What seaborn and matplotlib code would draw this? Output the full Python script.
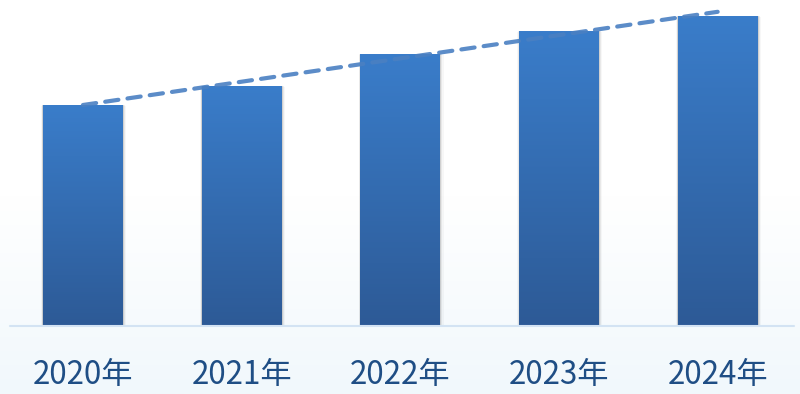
import numpy as np
import pandas as pd
import matplotlib
matplotlib.use("Agg")
import matplotlib.pyplot as plt
import seaborn as sns
from matplotlib.colors import LinearSegmentedColormap

years = ["2020年", "2021年", "2022年", "2023年", "2024年"]
values = [221, 240, 272, 295, 310]

sns.set_theme(style="white")
plt.rcParams['font.family'] = ['Noto Sans CJK SC', 'DejaVu Sans']

W, H = 800, 394
fig = plt.figure(figsize=(W / 100, H / 100), dpi=100)

# background gradient
bg = fig.add_axes([0, 0, 1, 1], zorder=-10)
bg.axis("off")
grad = np.linspace(0, 1, 256).reshape(-1, 1)
bg_cmap = LinearSegmentedColormap.from_list("bg", ["#ffffff", "#ffffff", "#f1f8fc"])
bg.imshow(grad, aspect="auto", cmap=bg_cmap, extent=[0, 1, 0, 1], origin="upper")
bg.set_xlim(0, 1); bg.set_ylim(0, 1)

x0 = 3.6 / W
x1 = 797 / W
y0 = (H - 326) / H
ax = fig.add_axes([x0, y0, x1 - x0, 326 / H])
ax.patch.set_alpha(0)

df = pd.DataFrame({"year": years, "value": values})
sns.barplot(data=df, x="year", y="value", ax=ax, width=0.503, color="#3a7cc8",
            edgecolor="none", saturation=1)

ax.set_xlim(-0.5, 4.5)
ax.set_ylim(0, 326)

bar_cmap = LinearSegmentedColormap.from_list("bar", ["#2d5a96", "#3a7dca"])
for p in list(ax.patches):
    bx, by = p.get_x(), p.get_y()
    bw, bh = p.get_width(), p.get_height()
    # soft shadow
    for k, a in enumerate([0.10, 0.06, 0.03]):
        off = (k + 1) * 0.006
        sh = plt.Rectangle((bx - off * 0.6, by - (k + 1) * 1.0), bw + off * 1.8, bh + (k + 1) * 0.8,
                           color="#000000", alpha=a, zorder=1, lw=0)
        ax.add_patch(sh)
    p.set_zorder(2)
    im = ax.imshow(np.linspace(0, 1, 256).reshape(-1, 1), cmap=bar_cmap, aspect="auto",
                   extent=[bx, bx + bw, by, by + bh], origin="lower", zorder=3)
    im.set_clip_path(p)

ax.set_xlim(-0.5, 4.5)
ax.set_ylim(0, 326)

# linear trendline
xi = np.arange(len(values))
coef = np.polyfit(xi, values, 1)
ax.plot(xi, np.polyval(coef, xi), linestyle=(0, (3.2, 2.2)), color="#4a80c2", alpha=0.9, lw=3,
        dash_capstyle="round", zorder=5, clip_on=False)

# baseline
ax.plot([-0.46, 4.48], [0, 0], color="#d3e3f3", lw=1.5, zorder=4, clip_on=False)

for s in ax.spines.values():
    s.set_visible(False)
ax.set_yticks([])
ax.set_xlabel(""); ax.set_ylabel("")
ax.tick_params(axis="x", length=0, pad=24, labelsize=22.5, labelcolor="#1f4e85")
ax.grid(False)

fig.savefig("out.png", dpi=100)
